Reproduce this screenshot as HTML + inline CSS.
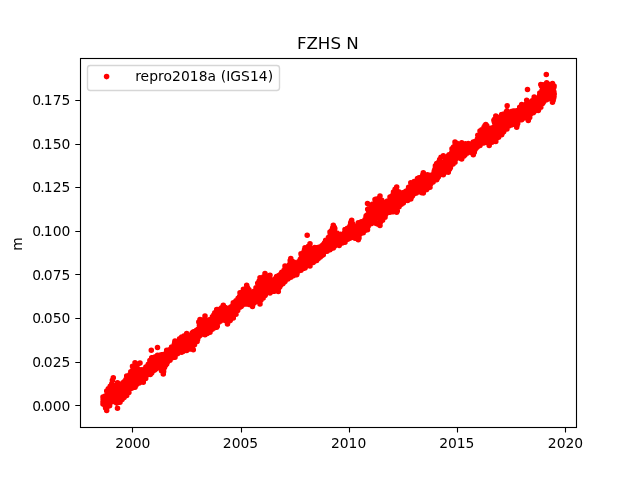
<!DOCTYPE html>
<html lang="en"><head><meta charset="utf-8"><title>FZHS N</title>
<style>html,body{margin:0;padding:0;background:#fff}body{width:640px;height:480px;overflow:hidden}svg{display:block}text{font-family:"DejaVu Sans","Liberation Sans",sans-serif;fill:#000}.t{font-size:13.89px}.h{font-size:16.67px}</style></head><body>
<svg width="640" height="480" viewBox="0 0 640 480">
<rect width="640" height="480" fill="#fff"/>
<path d="M103.0 397.0h0M103.0 403.9h0M103.0 401.9h0M103.1 399.1h0M103.3 399.8h0M103.4 401.3h0M103.5 399.6h0M103.7 396.7h0M103.8 402.4h0M103.9 404.3h0M104.1 400.7h0M104.2 402.8h0M104.3 399.9h0M104.4 399.5h0M104.5 405.0h0M104.7 396.4h0M104.8 404.7h0M104.9 401.1h0M105.1 405.6h0M105.2 402.0h0M105.3 398.5h0M105.5 400.8h0M105.6 408.0h0M105.7 401.8h0M105.9 399.6h0M106.0 403.9h0M106.1 399.6h0M106.3 402.1h0M106.3 404.8h0M106.5 401.1h0M106.6 405.3h0M106.7 410.5h0M106.7 391.1h0M106.7 395.2h0M106.9 407.5h0M107.1 394.1h0M107.2 397.0h0M107.3 396.1h0M107.4 392.2h0M107.6 392.9h0M107.7 399.0h0M107.8 403.6h0M107.9 405.8h0M108.0 394.5h0M108.2 393.2h0M108.3 388.8h0M108.5 395.8h0M108.6 401.3h0M108.7 397.3h0M108.9 402.0h0M108.9 394.9h0M109.1 395.1h0M109.2 391.3h0M109.4 395.5h0M109.5 397.5h0M109.6 405.7h0M109.8 393.4h0M109.9 398.9h0M110.1 403.0h0M110.2 386.2h0M110.3 389.3h0M110.4 398.8h0M110.5 392.9h0M110.7 395.1h0M110.8 398.9h0M110.9 386.2h0M111.0 387.8h0M111.2 397.7h0M111.3 389.8h0M111.4 387.9h0M111.6 395.9h0M111.7 390.6h0M111.8 383.8h0M112.0 395.6h0M112.1 391.7h0M112.3 392.2h0M112.4 380.3h0M112.4 391.8h0M112.6 387.3h0M112.8 388.1h0M112.8 387.4h0M113.0 396.0h0M113.1 396.1h0M113.3 390.6h0M113.3 401.4h0M113.3 377.8h0M113.4 397.7h0M113.5 391.1h0M113.7 388.0h0M113.8 396.2h0M114.0 398.0h0M114.0 390.5h0M114.2 392.1h0M114.3 386.6h0M114.5 391.1h0M114.6 386.4h0M114.7 386.7h0M114.8 386.4h0M115.0 393.0h0M115.1 393.4h0M115.2 394.3h0M115.3 390.4h0M115.4 398.5h0M115.6 397.8h0M115.7 401.7h0M115.9 386.9h0M116.0 389.1h0M116.1 393.9h0M116.3 392.3h0M116.4 392.5h0M116.6 392.9h0M116.6 403.0h0M116.8 395.6h0M116.9 386.5h0M117.1 391.2h0M117.2 392.9h0M117.3 396.1h0M117.4 394.2h0M117.5 408.2h0M117.5 382.8h0M117.6 400.3h0M117.7 386.5h0M117.8 394.6h0M118.0 396.7h0M118.1 389.2h0M118.3 393.6h0M118.3 398.4h0M118.5 396.0h0M118.6 390.9h0M118.7 395.5h0M118.9 386.6h0M119.0 393.4h0M119.2 388.2h0M119.3 397.5h0M119.4 398.5h0M119.5 398.0h0M119.7 398.5h0M119.8 393.0h0M119.9 400.6h0M120.0 384.5h0M120.0 402.2h0M120.1 391.4h0M120.1 392.0h0M120.3 392.3h0M120.4 394.9h0M120.5 388.2h0M120.7 395.6h0M120.8 393.6h0M120.9 389.1h0M121.1 387.2h0M121.2 391.5h0M121.3 392.1h0M121.4 388.5h0M121.6 385.1h0M121.8 393.5h0M121.8 387.4h0M122.0 388.4h0M122.1 399.6h0M122.3 384.4h0M122.4 390.5h0M122.5 392.1h0M122.6 387.9h0M122.8 387.5h0M122.9 382.7h0M123.0 387.2h0M123.1 384.3h0M123.3 389.0h0M123.5 394.9h0M123.5 393.9h0M123.6 385.2h0M123.8 384.6h0M123.9 393.5h0M124.1 397.4h0M124.1 381.7h0M124.3 382.2h0M124.4 396.8h0M124.6 387.7h0M124.8 393.0h0M124.8 391.5h0M125.0 385.8h0M125.1 391.9h0M125.2 389.2h0M125.3 394.2h0M125.5 386.6h0M125.6 381.7h0M125.7 382.8h0M125.9 379.5h0M126.0 387.6h0M126.2 390.4h0M126.2 390.8h0M126.4 388.6h0M126.5 382.9h0M126.7 391.0h0M126.7 395.5h0M126.7 376.1h0M126.7 392.2h0M126.9 393.7h0M127.1 385.0h0M127.2 387.0h0M127.3 386.0h0M127.5 383.1h0M127.5 382.3h0M127.7 393.0h0M127.9 381.3h0M127.9 383.2h0M128.1 386.9h0M128.2 392.8h0M128.4 389.9h0M128.5 390.8h0M128.6 384.2h0M128.7 388.1h0M128.9 392.6h0M129.0 387.4h0M129.1 380.4h0M129.2 387.3h0M129.4 378.8h0M129.5 388.8h0M129.7 382.6h0M129.8 383.1h0M129.9 374.6h0M130.1 382.3h0M130.2 377.4h0M130.3 384.3h0M130.4 376.8h0M130.5 386.2h0M130.7 384.3h0M130.8 371.8h0M130.9 377.5h0M131.0 377.1h0M131.2 379.6h0M131.3 387.0h0M131.4 376.3h0M131.6 387.5h0M131.7 388.2h0M131.9 378.0h0M132.0 376.2h0M132.1 383.8h0M132.3 378.0h0M132.4 377.7h0M132.5 379.7h0M132.5 366.3h0M132.7 370.4h0M132.8 366.7h0M132.9 378.7h0M133.0 383.7h0M133.1 367.4h0M133.3 381.6h0M133.4 368.2h0M133.5 376.1h0M133.7 382.8h0M133.8 386.7h0M134.0 384.3h0M134.1 381.4h0M134.2 382.4h0M134.3 376.6h0M134.5 378.2h0M134.6 376.9h0M134.7 377.7h0M134.8 376.4h0M135.0 377.1h0M135.0 362.8h0M135.0 387.2h0M135.1 372.0h0M135.2 373.5h0M135.3 366.3h0M135.5 374.8h0M135.7 374.8h0M135.7 368.9h0M135.9 385.5h0M136.1 376.5h0M136.1 368.5h0M136.2 373.3h0M136.4 375.0h0M136.6 382.9h0M136.7 373.5h0M136.8 377.1h0M137.0 365.4h0M137.1 372.2h0M137.2 375.9h0M137.3 374.4h0M137.5 369.8h0M137.6 372.3h0M137.7 383.6h0M137.9 375.3h0M138.0 369.5h0M138.1 381.5h0M138.3 369.2h0M138.4 372.7h0M138.5 379.1h0M138.6 379.9h0M138.7 380.2h0M138.8 377.9h0M139.0 378.5h0M139.2 383.0h0M139.2 371.5h0M139.4 373.3h0M139.5 381.4h0M139.7 371.5h0M139.8 382.5h0M139.9 381.5h0M140.0 363.1h0M140.0 379.8h0M140.1 379.8h0M140.3 370.8h0M140.4 375.9h0M140.6 382.0h0M140.7 372.4h0M140.8 374.4h0M141.0 372.0h0M141.0 377.3h0M141.2 369.7h0M141.3 379.1h0M141.4 381.4h0M141.6 377.5h0M141.7 381.5h0M141.8 376.0h0M142.0 375.4h0M142.2 379.3h0M142.2 376.8h0M142.3 379.7h0M142.5 372.9h0M142.6 381.8h0M142.8 381.6h0M143.0 374.1h0M143.0 373.1h0M143.1 374.4h0M143.3 371.7h0M143.3 370.3h0M143.3 382.2h0M143.4 380.0h0M143.5 376.1h0M143.7 377.4h0M143.8 371.4h0M143.9 372.3h0M144.1 375.0h0M144.2 374.2h0M144.3 378.8h0M144.5 374.6h0M144.6 369.0h0M144.7 372.1h0M144.9 378.0h0M145.0 376.0h0M145.1 377.1h0M145.2 377.1h0M145.3 377.2h0M145.5 374.1h0M145.7 378.5h0M145.8 370.8h0M145.9 367.1h0M146.0 376.3h0M146.1 370.3h0M146.3 373.9h0M146.4 374.7h0M146.5 366.8h0M146.6 371.7h0M146.8 374.7h0M146.9 371.3h0M147.1 372.9h0M147.2 373.2h0M147.3 369.6h0M147.5 371.5h0M147.6 373.0h0M147.7 370.5h0M147.8 368.8h0M148.0 369.5h0M148.1 365.0h0M148.3 364.3h0M148.4 370.3h0M148.5 373.4h0M148.7 366.4h0M148.7 367.4h0M148.9 373.1h0M149.0 366.5h0M149.2 367.1h0M149.3 367.6h0M149.4 368.0h0M149.6 372.0h0M149.6 368.0h0M149.8 362.9h0M149.9 360.5h0M150.1 360.8h0M150.2 364.9h0M150.3 374.4h0M150.4 370.0h0M150.5 365.7h0M150.8 367.0h0M150.8 368.7h0M151.0 364.3h0M151.1 360.5h0M151.3 364.9h0M151.3 350.3h0M151.3 364.9h0M151.5 362.8h0M151.6 366.1h0M151.7 373.0h0M151.7 357.8h0M151.8 366.9h0M151.9 359.2h0M152.0 371.2h0M152.1 357.9h0M152.3 365.2h0M152.4 365.9h0M152.5 365.8h0M152.7 364.6h0M152.8 361.1h0M152.9 365.8h0M153.0 365.7h0M153.2 364.8h0M153.3 361.1h0M153.4 367.5h0M153.6 370.7h0M153.7 368.3h0M153.8 360.6h0M154.0 365.9h0M154.1 364.1h0M154.2 368.4h0M154.4 364.7h0M154.5 366.0h0M154.6 364.0h0M154.7 369.9h0M154.9 358.9h0M155.0 362.5h0M155.2 369.5h0M155.3 356.7h0M155.4 362.5h0M155.5 359.7h0M155.6 364.9h0M155.8 369.0h0M156.0 366.2h0M156.1 364.3h0M156.1 365.5h0M156.3 358.5h0M156.4 364.6h0M156.6 360.1h0M156.6 363.1h0M156.8 362.5h0M156.9 367.7h0M157.1 356.6h0M157.3 362.2h0M157.3 362.4h0M157.5 359.8h0M157.5 347.5h0M157.5 368.0h0M157.5 355.3h0M157.6 364.7h0M157.8 364.5h0M157.9 362.5h0M157.9 365.2h0M158.1 359.4h0M158.3 367.3h0M158.4 358.8h0M158.5 357.6h0M158.6 358.4h0M158.7 367.4h0M158.9 365.8h0M159.0 366.8h0M159.1 363.4h0M159.3 357.5h0M159.4 356.8h0M159.5 355.3h0M159.6 365.0h0M159.7 364.9h0M159.9 362.9h0M160.0 363.8h0M160.0 359.2h0M160.2 367.3h0M160.3 360.3h0M160.4 355.6h0M160.6 363.1h0M160.7 357.8h0M160.8 364.1h0M161.0 357.4h0M161.1 359.2h0M161.3 363.1h0M161.4 364.2h0M161.5 370.8h0M161.6 354.9h0M161.8 364.6h0M161.9 359.9h0M162.0 355.5h0M162.0 365.2h0M162.2 368.9h0M162.3 358.5h0M162.4 368.4h0M162.5 362.4h0M162.7 363.5h0M162.8 356.9h0M163.0 362.2h0M163.0 360.1h0M163.2 363.3h0M163.3 354.5h0M163.3 373.9h0M163.3 360.1h0M163.4 369.8h0M163.6 371.4h0M163.7 366.2h0M163.8 359.7h0M164.0 366.7h0M164.1 357.6h0M164.3 361.5h0M164.3 358.6h0M164.5 367.4h0M164.6 366.4h0M164.7 359.6h0M164.9 361.3h0M165.0 356.5h0M165.1 364.9h0M165.3 361.6h0M165.4 354.8h0M165.5 355.3h0M165.6 365.3h0M165.8 355.0h0M166.0 358.4h0M166.1 357.4h0M166.2 360.8h0M166.3 358.2h0M166.4 359.5h0M166.6 352.1h0M166.7 355.6h0M166.7 350.3h0M166.7 363.9h0M166.9 359.8h0M166.9 359.7h0M167.1 361.9h0M167.3 358.4h0M167.3 355.6h0M167.5 360.1h0M167.6 354.4h0M167.7 361.8h0M167.9 357.8h0M168.0 355.2h0M168.2 358.5h0M168.3 357.2h0M168.4 354.4h0M168.5 360.3h0M168.7 350.1h0M168.8 357.4h0M169.0 359.5h0M169.0 360.3h0M169.2 358.6h0M169.3 352.0h0M169.5 352.9h0M169.5 351.8h0M169.7 357.4h0M169.8 359.9h0M170.0 349.9h0M170.0 360.2h0M170.0 349.5h0M170.1 353.0h0M170.2 354.6h0M170.4 351.2h0M170.4 358.5h0M170.6 357.9h0M170.8 355.5h0M170.9 352.6h0M171.0 352.0h0M171.1 356.2h0M171.3 355.1h0M171.3 353.6h0M171.5 356.7h0M171.6 347.1h0M171.7 358.1h0M171.9 347.4h0M172.1 348.7h0M172.2 352.8h0M172.3 347.5h0M172.4 348.9h0M172.5 356.1h0M172.7 351.6h0M172.8 348.0h0M172.9 355.8h0M173.0 355.6h0M173.2 349.4h0M173.4 352.1h0M173.4 351.4h0M173.6 348.5h0M173.7 351.4h0M173.9 349.8h0M173.9 351.1h0M174.1 345.1h0M174.2 354.6h0M174.4 356.9h0M174.5 352.5h0M174.6 343.4h0M174.8 352.0h0M174.8 341.8h0M175.0 341.1h0M175.0 357.2h0M175.1 354.8h0M175.2 343.5h0M175.3 345.5h0M175.4 351.1h0M175.6 346.4h0M175.7 349.4h0M175.8 346.5h0M175.9 354.5h0M176.0 351.1h0M176.1 344.6h0M176.4 353.3h0M176.5 347.8h0M176.6 346.6h0M176.7 346.5h0M176.9 342.3h0M176.9 348.6h0M177.1 351.3h0M177.2 345.1h0M177.4 345.1h0M177.5 342.1h0M177.7 345.3h0M177.7 351.9h0M177.8 353.6h0M178.0 353.1h0M178.1 348.7h0M178.3 348.3h0M178.4 349.0h0M178.5 345.4h0M178.6 345.1h0M178.8 348.4h0M178.9 349.5h0M179.1 349.2h0M179.1 342.5h0M179.4 345.7h0M179.4 342.1h0M179.6 338.7h0M179.7 346.0h0M179.9 343.1h0M180.0 348.0h0M180.1 340.7h0M180.2 342.5h0M180.4 348.9h0M180.4 345.5h0M180.6 348.8h0M180.7 350.7h0M180.9 343.5h0M181.0 343.7h0M181.1 342.1h0M181.2 344.7h0M181.4 349.5h0M181.5 340.5h0M181.6 344.9h0M181.7 352.2h0M181.7 337.0h0M181.8 346.6h0M181.9 343.9h0M182.1 350.6h0M182.1 341.1h0M182.3 349.6h0M182.4 341.9h0M182.6 339.8h0M182.7 345.0h0M182.9 347.9h0M183.0 351.5h0M183.1 348.5h0M183.2 337.0h0M183.3 340.5h0M183.4 349.1h0M183.6 339.4h0M183.7 349.8h0M183.9 336.0h0M184.0 342.9h0M184.1 348.0h0M184.3 349.5h0M184.4 345.8h0M184.5 338.5h0M184.6 346.1h0M184.8 347.3h0M184.9 348.4h0M185.0 343.6h0M185.2 347.1h0M185.3 344.1h0M185.5 342.5h0M185.6 342.6h0M185.7 337.6h0M185.8 350.3h0M185.9 336.5h0M186.0 342.6h0M186.2 338.6h0M186.4 339.8h0M186.4 345.0h0M186.6 340.0h0M186.7 344.8h0M186.7 333.6h0M186.7 350.5h0M186.8 343.0h0M187.0 347.6h0M187.1 341.1h0M187.2 338.1h0M187.4 344.1h0M187.5 336.4h0M187.7 346.1h0M187.8 343.1h0M187.9 341.4h0M188.1 347.0h0M188.1 346.2h0M188.3 337.6h0M188.4 340.1h0M188.6 337.9h0M188.6 341.8h0M188.8 336.5h0M188.9 343.7h0M189.0 341.4h0M189.2 341.4h0M189.3 344.8h0M189.5 343.6h0M189.6 339.8h0M189.7 342.7h0M189.8 345.6h0M190.0 340.9h0M190.1 348.9h0M190.2 335.5h0M190.4 341.4h0M190.5 342.4h0M190.6 337.5h0M190.7 336.8h0M190.9 341.9h0M191.0 346.2h0M191.1 337.6h0M191.3 341.3h0M191.4 340.6h0M191.6 343.4h0M191.7 340.2h0M191.8 336.4h0M191.9 345.1h0M192.1 341.3h0M192.2 344.4h0M192.3 332.7h0M192.4 344.1h0M192.5 334.7h0M192.7 345.2h0M192.8 336.8h0M193.0 335.3h0M193.1 339.5h0M193.2 343.2h0M193.3 332.0h0M193.3 349.7h0M193.3 338.7h0M193.5 343.3h0M193.6 331.7h0M193.7 333.7h0M193.9 340.7h0M194.0 340.4h0M194.1 341.9h0M194.3 334.2h0M194.4 332.7h0M194.5 344.8h0M194.7 338.1h0M194.8 340.3h0M194.9 335.8h0M195.0 337.6h0M195.2 334.5h0M195.3 331.8h0M195.5 338.9h0M195.6 339.2h0M195.7 338.9h0M195.8 341.0h0M195.9 335.1h0M196.0 331.9h0M196.2 335.2h0M196.4 339.6h0M196.5 330.2h0M196.6 332.8h0M196.7 340.1h0M196.9 331.9h0M197.0 337.9h0M197.1 341.4h0M197.2 331.9h0M197.4 332.8h0M197.5 337.8h0M197.6 339.5h0M197.7 331.0h0M197.9 332.3h0M198.0 329.4h0M198.2 330.8h0M198.3 329.3h0M198.4 334.2h0M198.5 331.1h0M198.7 334.9h0M198.8 322.1h0M198.9 336.4h0M199.1 331.3h0M199.2 322.3h0M199.3 321.6h0M199.4 325.3h0M199.6 327.1h0M199.7 323.1h0M199.8 329.8h0M200.0 324.8h0M200.0 335.5h0M200.0 319.5h0M200.1 328.1h0M200.2 326.9h0M200.3 327.0h0M200.5 331.6h0M200.7 333.6h0M200.8 334.0h0M200.9 324.3h0M201.0 322.6h0M201.2 332.2h0M201.3 323.8h0M201.4 320.5h0M201.6 321.8h0M201.7 327.2h0M201.8 324.7h0M201.9 321.6h0M202.0 323.5h0M202.1 322.9h0M202.3 320.2h0M202.4 329.3h0M202.5 332.1h0M202.7 322.7h0M202.9 326.3h0M203.0 322.2h0M203.1 320.6h0M203.3 326.4h0M203.3 325.9h0M203.5 320.7h0M203.7 331.0h0M203.7 324.8h0M203.8 325.6h0M204.0 322.2h0M204.1 330.9h0M204.3 329.9h0M204.4 325.8h0M204.5 334.6h0M204.6 333.7h0M204.8 320.8h0M204.9 328.0h0M205.0 334.7h0M205.0 316.1h0M205.0 324.8h0M205.1 319.2h0M205.3 321.2h0M205.4 330.7h0M205.6 327.6h0M205.7 327.8h0M205.8 327.6h0M205.9 324.7h0M206.1 328.7h0M206.3 321.7h0M206.4 320.2h0M206.4 329.6h0M206.6 329.6h0M206.8 326.7h0M206.8 325.3h0M207.0 324.6h0M207.2 333.4h0M207.2 323.6h0M207.3 328.7h0M207.5 320.7h0M207.7 323.6h0M207.7 332.9h0M207.9 321.0h0M208.1 326.1h0M208.2 332.1h0M208.3 329.8h0M208.5 328.3h0M208.6 327.9h0M208.7 326.9h0M208.8 321.4h0M208.9 329.4h0M209.1 325.2h0M209.3 323.3h0M209.3 322.1h0M209.4 324.7h0M209.6 332.3h0M209.7 321.4h0M209.9 327.1h0M210.0 324.2h0M210.0 332.2h0M210.0 319.5h0M210.2 327.9h0M210.2 327.4h0M210.4 324.8h0M210.5 325.4h0M210.7 326.4h0M210.8 324.8h0M210.9 325.8h0M211.1 323.7h0M211.2 324.3h0M211.3 319.2h0M211.4 327.4h0M211.5 321.0h0M211.6 328.4h0M211.8 322.0h0M211.9 321.3h0M212.1 321.1h0M212.2 323.6h0M212.4 316.9h0M212.4 328.1h0M212.5 327.3h0M212.7 329.1h0M212.9 320.6h0M213.0 318.4h0M213.1 320.1h0M213.3 320.7h0M213.3 326.2h0M213.5 327.8h0M213.6 316.8h0M213.8 324.5h0M213.9 314.7h0M214.0 327.9h0M214.2 321.2h0M214.3 321.5h0M214.4 319.2h0M214.5 314.6h0M214.7 324.0h0M214.8 312.8h0M214.9 317.2h0M215.0 316.8h0M215.2 321.2h0M215.3 313.7h0M215.5 318.6h0M215.6 319.2h0M215.7 314.7h0M215.9 321.2h0M216.0 325.7h0M216.1 319.9h0M216.3 314.8h0M216.4 322.3h0M216.5 312.7h0M216.6 319.5h0M216.7 327.2h0M216.7 309.5h0M216.7 314.0h0M216.9 317.7h0M217.0 323.0h0M217.2 317.8h0M217.3 326.3h0M217.4 316.9h0M217.5 315.7h0M217.7 313.4h0M217.7 316.4h0M217.9 319.3h0M218.1 309.6h0M218.2 317.3h0M218.3 314.6h0M218.4 322.0h0M218.6 313.5h0M218.7 320.6h0M218.8 311.8h0M218.9 310.3h0M219.1 322.1h0M219.2 312.0h0M219.4 309.8h0M219.5 316.7h0M219.6 310.2h0M219.8 319.8h0M219.8 310.1h0M220.0 317.7h0M220.1 313.4h0M220.3 321.3h0M220.4 316.3h0M220.5 317.2h0M220.6 314.4h0M220.8 319.7h0M220.9 312.3h0M221.0 314.8h0M221.2 312.5h0M221.3 310.6h0M221.5 315.1h0M221.6 307.9h0M221.7 307.7h0M221.8 309.6h0M222.0 316.5h0M222.1 319.3h0M222.2 313.0h0M222.3 313.3h0M222.5 308.1h0M222.6 311.2h0M222.8 309.6h0M222.8 311.0h0M223.0 307.1h0M223.1 310.8h0M223.3 312.6h0M223.3 318.0h0M223.3 305.3h0M223.4 312.3h0M223.5 315.5h0M223.7 311.7h0M223.8 313.6h0M223.9 316.3h0M224.0 313.5h0M224.2 314.6h0M224.2 318.1h0M224.4 312.2h0M224.5 312.9h0M224.6 307.7h0M224.8 317.2h0M225.0 315.6h0M225.1 320.5h0M225.2 307.5h0M225.4 311.1h0M225.4 316.3h0M225.6 312.1h0M225.7 308.4h0M225.8 318.4h0M226.0 316.5h0M226.1 312.9h0M226.2 310.6h0M226.4 312.4h0M226.5 315.2h0M226.6 313.6h0M226.8 316.0h0M226.9 315.7h0M227.0 318.4h0M227.1 309.5h0M227.3 316.9h0M227.4 317.9h0M227.5 323.9h0M227.5 308.6h0M227.5 312.1h0M227.6 315.7h0M227.8 314.7h0M227.9 318.2h0M228.1 315.7h0M228.2 316.0h0M228.4 314.5h0M228.4 315.2h0M228.6 319.2h0M228.7 314.7h0M228.8 311.4h0M229.0 315.4h0M229.1 312.7h0M229.3 314.8h0M229.3 317.5h0M229.5 318.4h0M229.6 318.3h0M229.7 313.0h0M229.9 316.4h0M230.0 315.7h0M230.2 320.6h0M230.3 312.5h0M230.4 313.7h0M230.5 318.2h0M230.6 308.6h0M230.7 307.1h0M230.9 309.9h0M231.0 315.6h0M231.1 312.3h0M231.3 307.9h0M231.5 313.3h0M231.6 309.2h0M231.7 312.9h0M231.9 318.0h0M232.0 310.7h0M232.1 311.5h0M232.2 314.4h0M232.4 317.8h0M232.4 317.4h0M232.6 316.4h0M232.8 308.4h0M232.8 305.3h0M233.0 311.7h0M233.1 314.3h0M233.3 307.1h0M233.3 302.8h0M233.3 318.0h0M233.4 311.8h0M233.5 314.4h0M233.6 305.2h0M233.8 310.9h0M233.9 312.7h0M234.0 309.8h0M234.2 313.2h0M234.3 311.4h0M234.4 306.8h0M234.5 311.0h0M234.7 311.1h0M234.8 312.7h0M235.0 310.6h0M235.1 306.7h0M235.2 304.6h0M235.3 305.7h0M235.5 311.2h0M235.6 302.3h0M235.7 313.7h0M235.8 308.9h0M236.0 314.2h0M236.0 300.8h0M236.0 306.0h0M236.2 308.6h0M236.3 304.7h0M236.4 310.0h0M236.5 303.7h0M236.6 310.9h0M236.7 304.3h0M236.9 308.3h0M237.1 308.1h0M237.2 305.6h0M237.3 303.3h0M237.4 302.0h0M237.5 307.1h0M237.7 310.4h0M237.9 307.2h0M237.9 306.7h0M238.1 298.3h0M238.2 299.6h0M238.4 302.2h0M238.5 304.9h0M238.6 302.4h0M238.7 298.4h0M238.9 302.5h0M238.9 300.7h0M239.1 304.6h0M239.2 305.3h0M239.3 302.2h0M239.5 301.7h0M239.6 296.5h0M239.8 302.1h0M239.9 296.1h0M240.0 307.2h0M240.0 292.8h0M240.0 303.0h0M240.2 297.9h0M240.2 293.6h0M240.4 305.8h0M240.5 296.6h0M240.6 302.8h0M240.8 305.2h0M241.0 298.7h0M241.1 303.4h0M241.2 306.5h0M241.3 295.9h0M241.4 296.7h0M241.5 294.2h0M241.7 295.5h0M241.9 302.0h0M241.9 303.0h0M242.1 296.1h0M242.2 301.3h0M242.3 296.3h0M242.5 305.1h0M242.7 298.7h0M242.8 297.6h0M242.9 301.6h0M243.0 296.1h0M243.2 292.1h0M243.3 297.5h0M243.4 289.2h0M243.5 294.2h0M243.7 299.0h0M243.8 299.0h0M243.9 304.2h0M244.1 299.8h0M244.2 296.6h0M244.3 297.8h0M244.5 295.4h0M244.6 293.3h0M244.7 294.8h0M244.8 302.6h0M244.9 298.7h0M245.0 300.6h0M245.2 291.9h0M245.4 293.9h0M245.4 300.0h0M245.6 296.2h0M245.7 295.3h0M245.9 294.7h0M246.0 300.8h0M246.2 298.5h0M246.3 289.7h0M246.4 294.3h0M246.5 291.0h0M246.6 293.1h0M246.7 303.9h0M246.7 285.3h0M246.8 300.6h0M246.9 294.8h0M247.1 292.4h0M247.1 299.8h0M247.3 287.2h0M247.4 292.8h0M247.5 291.3h0M247.7 290.1h0M247.8 296.6h0M247.9 290.1h0M248.1 288.8h0M248.2 301.6h0M248.4 296.4h0M248.5 292.7h0M248.6 295.3h0M248.7 299.2h0M248.8 296.4h0M249.0 289.9h0M249.1 304.4h0M249.3 294.2h0M249.4 304.5h0M249.5 304.3h0M249.6 299.8h0M249.7 301.0h0M249.9 294.2h0M250.1 296.3h0M250.1 295.8h0M250.3 293.1h0M250.4 301.3h0M250.6 298.8h0M250.7 300.1h0M250.8 298.5h0M251.0 304.4h0M251.1 295.1h0M251.2 299.1h0M251.3 295.7h0M251.5 301.4h0M251.6 304.9h0M251.7 294.0h0M251.9 301.2h0M252.0 304.7h0M252.1 303.0h0M252.3 300.7h0M252.4 299.8h0M252.5 295.2h0M252.5 306.4h0M252.5 294.5h0M252.7 300.8h0M252.8 296.7h0M252.9 300.9h0M253.1 295.5h0M253.1 298.0h0M253.3 296.7h0M253.4 294.4h0M253.5 298.8h0M253.7 299.1h0M253.8 303.3h0M253.9 295.4h0M254.1 296.5h0M254.1 291.3h0M254.3 294.3h0M254.5 302.8h0M254.6 294.0h0M254.7 293.0h0M254.8 299.8h0M255.0 292.9h0M255.1 295.5h0M255.2 299.9h0M255.3 299.7h0M255.5 295.5h0M255.7 294.1h0M255.8 300.8h0M255.9 301.4h0M256.0 287.8h0M256.1 288.5h0M256.3 290.2h0M256.4 295.9h0M256.6 299.1h0M256.6 300.1h0M256.8 299.2h0M256.9 292.7h0M257.0 288.3h0M257.2 288.7h0M257.3 293.3h0M257.4 292.7h0M257.6 292.1h0M257.7 283.3h0M257.8 300.7h0M258.0 288.0h0M258.1 291.7h0M258.2 287.0h0M258.3 294.4h0M258.5 284.2h0M258.6 287.6h0M258.8 299.7h0M258.8 289.0h0M259.0 281.3h0M259.1 290.5h0M259.3 292.2h0M259.4 294.0h0M259.5 292.7h0M259.7 280.2h0M259.7 290.6h0M259.9 285.0h0M260.0 277.8h0M260.0 303.9h0M260.0 293.6h0M260.1 295.9h0M260.3 279.4h0M260.4 284.3h0M260.6 291.8h0M260.7 294.3h0M260.8 288.9h0M260.9 282.2h0M261.0 300.0h0M261.2 295.5h0M261.4 297.7h0M261.5 288.7h0M261.6 294.9h0M261.7 296.7h0M261.9 283.2h0M262.0 286.8h0M262.2 284.1h0M262.3 284.1h0M262.4 282.2h0M262.5 282.5h0M262.6 282.5h0M262.8 285.4h0M262.9 277.6h0M263.0 288.5h0M263.2 298.0h0M263.3 282.6h0M263.4 295.0h0M263.6 276.9h0M263.6 288.8h0M263.8 287.8h0M264.0 289.8h0M264.1 285.9h0M264.2 281.4h0M264.3 282.2h0M264.5 280.0h0M264.5 295.6h0M264.7 286.3h0M264.8 277.1h0M264.9 287.9h0M265.0 273.6h0M265.0 295.5h0M265.1 284.5h0M265.2 282.7h0M265.3 295.0h0M265.5 286.2h0M265.7 289.3h0M265.7 281.8h0M265.9 282.6h0M266.0 287.7h0M266.2 285.9h0M266.3 292.4h0M266.4 280.6h0M266.5 280.9h0M266.6 291.3h0M266.8 284.3h0M266.9 286.8h0M267.1 280.4h0M267.2 289.5h0M267.3 276.2h0M267.4 287.5h0M267.6 280.8h0M267.7 282.2h0M267.9 287.4h0M268.0 284.2h0M268.1 279.4h0M268.2 285.1h0M268.4 281.9h0M268.5 282.4h0M268.6 285.9h0M268.8 276.9h0M268.9 285.4h0M269.0 280.2h0M269.2 278.2h0M269.3 287.6h0M269.4 277.4h0M269.5 283.2h0M269.6 287.0h0M269.8 286.0h0M269.9 282.2h0M270.0 293.0h0M270.0 275.3h0M270.0 287.4h0M270.2 281.5h0M270.3 279.7h0M270.4 286.2h0M270.6 288.0h0M270.7 285.5h0M270.8 290.9h0M270.9 285.7h0M271.1 284.3h0M271.3 285.1h0M271.3 283.5h0M271.5 285.6h0M271.6 286.3h0M271.7 280.0h0M271.8 282.4h0M272.0 285.0h0M272.2 285.2h0M272.2 283.2h0M272.4 291.1h0M272.5 281.7h0M272.6 282.3h0M272.8 282.4h0M272.9 289.2h0M273.1 280.7h0M273.2 289.3h0M273.3 283.9h0M273.5 291.3h0M273.6 286.1h0M273.7 284.8h0M273.8 286.3h0M273.9 290.9h0M274.1 279.9h0M274.2 285.4h0M274.4 291.3h0M274.4 285.0h0M274.6 279.3h0M274.8 284.8h0M274.9 287.8h0M275.0 282.0h0M275.1 285.6h0M275.2 289.7h0M275.4 283.1h0M275.5 286.4h0M275.6 281.7h0M275.8 286.0h0M275.9 278.0h0M276.1 290.7h0M276.2 278.7h0M276.3 286.5h0M276.4 285.1h0M276.6 281.2h0M276.6 276.6h0M276.8 281.2h0M277.0 283.9h0M277.1 280.3h0M277.2 280.5h0M277.3 279.2h0M277.4 283.0h0M277.6 282.5h0M277.7 280.1h0M277.9 288.8h0M278.0 284.3h0M278.1 283.2h0M278.3 288.5h0M278.3 291.4h0M278.3 276.1h0M278.4 281.0h0M278.5 281.5h0M278.7 278.9h0M278.8 284.4h0M278.9 288.0h0M279.0 283.2h0M279.2 280.2h0M279.3 275.4h0M279.4 284.8h0M279.5 284.7h0M279.7 286.2h0M279.8 285.9h0M279.9 286.7h0M280.0 282.6h0M280.2 284.9h0M280.3 280.1h0M280.4 275.0h0M280.6 278.8h0M280.7 276.4h0M280.9 278.7h0M281.0 273.8h0M281.1 284.7h0M281.2 280.5h0M281.4 282.6h0M281.5 280.1h0M281.6 272.8h0M281.8 272.3h0M281.9 280.7h0M282.0 276.6h0M282.1 275.4h0M282.3 283.2h0M282.4 279.8h0M282.5 272.8h0M282.7 276.1h0M282.8 283.8h0M282.9 275.3h0M283.1 272.3h0M283.2 271.8h0M283.3 279.4h0M283.4 279.1h0M283.6 273.7h0M283.7 280.7h0M283.9 278.4h0M284.0 270.3h0M284.0 282.2h0M284.2 273.9h0M284.3 277.4h0M284.5 277.7h0M284.6 277.7h0M284.8 277.7h0M284.8 277.4h0M285.0 268.7h0M285.0 281.4h0M285.0 266.1h0M285.1 276.0h0M285.3 278.0h0M285.4 277.5h0M285.5 274.6h0M285.6 268.1h0M285.8 277.4h0M286.0 278.9h0M286.0 277.5h0M286.2 272.6h0M286.3 274.1h0M286.5 267.4h0M286.6 269.4h0M286.7 277.2h0M286.9 274.3h0M287.0 268.8h0M287.1 270.9h0M287.2 270.9h0M287.3 274.0h0M287.5 276.6h0M287.6 276.5h0M287.8 271.7h0M287.9 278.9h0M288.0 266.9h0M288.1 271.9h0M288.2 271.7h0M288.4 272.0h0M288.5 275.1h0M288.6 266.1h0M288.8 272.8h0M288.9 269.6h0M289.0 267.1h0M289.2 272.8h0M289.2 265.2h0M289.4 264.7h0M289.6 275.0h0M289.7 265.5h0M289.8 266.7h0M290.0 264.2h0M290.1 265.1h0M290.2 260.6h0M290.3 262.1h0M290.4 276.8h0M290.5 265.0h0M290.7 270.7h0M290.8 277.2h0M290.8 258.6h0M290.9 263.8h0M290.9 263.8h0M291.1 260.9h0M291.2 268.1h0M291.4 271.7h0M291.5 275.5h0M291.6 276.4h0M291.7 276.1h0M291.9 268.4h0M292.0 261.8h0M292.2 265.0h0M292.2 275.7h0M292.4 268.5h0M292.6 265.7h0M292.6 269.5h0M292.8 270.1h0M292.9 268.8h0M293.0 262.9h0M293.2 262.1h0M293.3 275.7h0M293.4 262.8h0M293.6 263.9h0M293.7 262.1h0M293.9 271.5h0M294.0 273.6h0M294.1 264.4h0M294.2 271.7h0M294.3 266.5h0M294.5 266.3h0M294.6 271.0h0M294.7 264.9h0M294.9 267.4h0M295.0 265.9h0M295.1 270.3h0M295.3 273.8h0M295.4 271.5h0M295.6 273.4h0M295.7 264.4h0M295.8 273.3h0M295.9 272.8h0M296.0 271.6h0M296.2 272.3h0M296.3 265.9h0M296.5 266.3h0M296.6 265.3h0M296.7 262.8h0M296.7 274.7h0M296.7 266.2h0M296.8 267.7h0M297.0 273.7h0M297.1 272.1h0M297.2 270.8h0M297.3 264.0h0M297.4 268.2h0M297.7 270.9h0M297.7 268.5h0M297.8 265.9h0M298.0 267.1h0M298.2 269.9h0M298.2 270.5h0M298.3 264.7h0M298.6 266.5h0M298.7 267.3h0M298.8 261.5h0M298.9 268.3h0M299.1 269.3h0M299.2 265.2h0M299.3 263.0h0M299.4 269.9h0M299.5 270.6h0M299.7 266.5h0M299.8 265.4h0M300.0 262.9h0M300.1 264.5h0M300.2 265.8h0M300.3 259.4h0M300.5 260.8h0M300.6 260.5h0M300.7 260.6h0M300.8 270.0h0M301.0 265.1h0M301.0 270.2h0M301.0 253.8h0M301.1 265.9h0M301.2 264.1h0M301.4 254.9h0M301.5 255.7h0M301.7 267.4h0M301.7 263.7h0M301.9 255.7h0M302.0 257.1h0M302.2 263.2h0M302.3 258.8h0M302.5 260.5h0M302.6 261.0h0M302.7 253.1h0M302.8 260.6h0M302.9 257.7h0M303.0 258.2h0M303.2 262.3h0M303.3 262.9h0M303.5 264.9h0M303.6 265.4h0M303.7 256.8h0M303.8 263.6h0M303.9 259.0h0M304.1 257.7h0M304.3 253.0h0M304.4 268.3h0M304.5 249.9h0M304.7 259.7h0M304.7 253.1h0M304.9 261.5h0M305.0 268.0h0M305.0 247.8h0M305.1 264.9h0M305.2 259.9h0M305.3 250.4h0M305.4 262.4h0M305.6 259.3h0M305.7 266.7h0M305.8 257.0h0M306.0 265.5h0M306.1 250.8h0M306.2 258.7h0M306.3 253.5h0M306.4 256.1h0M306.6 248.5h0M306.7 258.5h0M306.8 265.3h0M307.0 258.8h0M307.1 264.4h0M307.2 258.4h0M307.2 235.3h0M307.4 257.7h0M307.5 249.2h0M307.6 250.8h0M307.7 258.7h0M307.8 259.0h0M308.0 261.8h0M308.1 250.1h0M308.3 251.9h0M308.4 248.9h0M308.5 246.4h0M308.7 254.9h0M308.8 251.0h0M308.9 252.8h0M309.0 251.6h0M309.2 253.5h0M309.3 259.0h0M309.4 249.6h0M309.5 252.6h0M309.7 248.9h0M309.9 253.6h0M310.0 248.7h0M310.0 266.0h0M310.0 243.8h0M310.1 259.0h0M310.3 259.6h0M310.4 249.6h0M310.5 259.4h0M310.6 255.9h0M310.8 252.1h0M310.8 263.3h0M311.0 259.3h0M311.1 255.5h0M311.3 254.1h0M311.4 255.7h0M311.5 251.9h0M311.6 257.1h0M311.8 250.7h0M311.9 252.0h0M312.0 249.0h0M312.1 251.4h0M312.3 262.0h0M312.4 252.8h0M312.5 261.0h0M312.7 254.4h0M312.8 255.3h0M313.0 248.5h0M313.1 255.7h0M313.2 262.5h0M313.3 250.9h0M313.5 261.2h0M313.6 255.7h0M313.8 253.0h0M313.9 258.7h0M314.0 256.6h0M314.1 250.5h0M314.3 248.3h0M314.4 256.3h0M314.5 261.3h0M314.7 250.2h0M314.7 247.5h0M314.9 250.5h0M315.1 248.9h0M315.2 253.8h0M315.3 255.9h0M315.5 256.4h0M315.6 248.8h0M315.6 257.9h0M315.8 260.0h0M315.9 252.6h0M316.1 252.4h0M316.2 258.0h0M316.4 252.3h0M316.4 253.3h0M316.5 260.0h0M316.7 255.3h0M316.7 247.8h0M316.7 260.5h0M316.8 256.2h0M317.0 250.5h0M317.1 253.2h0M317.2 251.1h0M317.3 254.7h0M317.5 252.0h0M317.6 257.2h0M317.8 254.8h0M317.9 256.8h0M318.1 254.6h0M318.2 257.3h0M318.3 250.1h0M318.4 258.5h0M318.6 257.1h0M318.6 252.5h0M318.8 247.2h0M319.0 256.0h0M319.1 247.8h0M319.2 248.3h0M319.3 250.0h0M319.5 255.1h0M319.6 253.0h0M319.7 255.2h0M319.8 253.0h0M320.0 251.7h0M320.1 251.4h0M320.2 252.5h0M320.4 257.0h0M320.5 252.7h0M320.7 250.4h0M320.8 250.6h0M320.9 250.3h0M321.0 247.0h0M321.2 247.3h0M321.3 253.0h0M321.4 250.6h0M321.5 253.2h0M321.7 254.3h0M321.8 251.5h0M321.9 245.7h0M322.1 255.5h0M322.2 249.6h0M322.3 250.6h0M322.4 250.5h0M322.5 251.4h0M322.7 249.5h0M322.9 252.5h0M323.0 250.3h0M323.1 250.9h0M323.2 251.7h0M323.3 254.7h0M323.3 244.5h0M323.4 247.8h0M323.5 251.0h0M323.6 247.7h0M323.7 249.2h0M323.9 246.7h0M324.0 246.2h0M324.2 249.5h0M324.2 251.5h0M324.4 245.9h0M324.6 242.7h0M324.7 244.0h0M324.8 251.1h0M324.9 249.6h0M325.1 246.2h0M325.2 246.2h0M325.3 250.1h0M325.5 244.6h0M325.6 248.9h0M325.7 240.2h0M325.8 246.8h0M325.9 245.7h0M326.1 240.2h0M326.2 248.0h0M326.3 245.7h0M326.5 244.8h0M326.6 241.5h0M326.8 248.5h0M326.9 245.1h0M327.0 250.3h0M327.1 251.3h0M327.3 242.2h0M327.4 249.4h0M327.5 240.5h0M327.7 247.7h0M327.7 244.8h0M327.9 247.9h0M328.0 244.5h0M328.1 241.8h0M328.3 244.5h0M328.4 237.6h0M328.5 243.9h0M328.7 239.8h0M328.8 246.5h0M328.9 245.6h0M329.1 239.0h0M329.2 239.5h0M329.4 246.7h0M329.5 239.2h0M329.6 244.2h0M329.7 239.1h0M329.8 246.1h0M330.0 236.3h0M330.0 232.0h0M330.0 249.7h0M330.1 240.1h0M330.2 233.4h0M330.4 244.6h0M330.5 242.1h0M330.6 235.5h0M330.7 232.2h0M330.9 245.8h0M331.0 231.3h0M331.2 237.4h0M331.3 239.5h0M331.4 248.6h0M331.6 245.9h0M331.6 238.9h0M331.8 240.9h0M331.9 234.6h0M332.1 230.5h0M332.2 235.0h0M332.3 229.3h0M332.5 242.5h0M332.6 232.0h0M332.7 227.7h0M332.8 239.1h0M333.0 233.7h0M333.1 245.3h0M333.2 234.1h0M333.3 248.0h0M333.3 225.3h0M333.4 234.9h0M333.5 234.9h0M333.6 238.8h0M333.7 237.1h0M333.9 235.3h0M334.0 241.9h0M334.1 245.6h0M334.3 227.3h0M334.4 244.0h0M334.5 246.3h0M334.6 236.4h0M334.8 228.5h0M334.9 235.0h0M335.0 237.0h0M335.2 232.5h0M335.3 235.3h0M335.4 243.6h0M335.5 235.0h0M335.7 245.1h0M335.9 237.5h0M335.9 238.2h0M336.0 240.9h0M336.2 240.8h0M336.4 235.6h0M336.4 240.2h0M336.6 240.2h0M336.7 241.1h0M336.9 233.0h0M337.0 242.1h0M337.2 241.0h0M337.3 242.4h0M337.4 242.1h0M337.5 240.5h0M337.7 238.6h0M337.8 238.5h0M337.9 238.7h0M338.1 234.9h0M338.2 241.9h0M338.3 240.9h0M338.4 242.1h0M338.6 242.7h0M338.7 242.3h0M338.8 241.8h0M338.9 238.5h0M339.1 243.8h0M339.2 245.5h0M339.2 235.3h0M339.3 238.5h0M339.3 242.9h0M339.5 242.9h0M339.6 242.6h0M339.7 238.3h0M339.9 238.5h0M340.0 242.5h0M340.1 243.6h0M340.3 237.6h0M340.4 234.3h0M340.5 241.2h0M340.6 240.1h0M340.7 236.2h0M340.9 242.6h0M341.0 242.7h0M341.2 241.3h0M341.3 238.6h0M341.4 239.8h0M341.5 240.7h0M341.6 238.0h0M341.8 241.0h0M341.9 235.7h0M342.1 236.9h0M342.2 243.0h0M342.4 238.0h0M342.5 237.0h0M342.6 236.6h0M342.8 235.3h0M342.9 239.2h0M342.9 240.5h0M343.1 240.9h0M343.2 236.5h0M343.4 241.6h0M343.5 240.8h0M343.7 236.1h0M343.8 237.7h0M343.9 234.4h0M344.1 240.0h0M344.2 238.2h0M344.3 235.6h0M344.4 238.5h0M344.5 232.9h0M344.7 238.7h0M344.8 237.5h0M345.0 240.7h0M345.0 229.5h0M345.0 242.2h0M345.0 229.9h0M345.2 237.3h0M345.3 236.4h0M345.4 233.6h0M345.6 233.4h0M345.7 234.8h0M345.9 238.3h0M346.0 232.0h0M346.1 238.8h0M346.2 236.2h0M346.3 232.6h0M346.5 231.5h0M346.6 237.3h0M346.7 239.0h0M346.9 230.6h0M347.0 229.7h0M347.1 233.9h0M347.3 236.1h0M347.4 228.2h0M347.6 230.6h0M347.7 232.5h0M347.8 233.2h0M348.0 230.5h0M348.0 233.4h0M348.2 239.1h0M348.3 232.7h0M348.5 235.3h0M348.6 236.3h0M348.7 235.5h0M348.8 231.5h0M348.9 232.5h0M349.1 236.7h0M349.2 231.4h0M349.4 234.9h0M349.4 227.9h0M349.6 231.3h0M349.7 230.5h0M349.8 226.3h0M350.0 235.5h0M350.1 232.1h0M350.3 238.1h0M350.4 233.4h0M350.5 224.9h0M350.7 222.8h0M350.8 231.5h0M351.0 231.8h0M351.1 226.2h0M351.1 225.0h0M351.3 221.3h0M351.5 231.3h0M351.6 226.5h0M351.6 222.5h0M351.7 220.3h0M351.7 237.2h0M351.8 222.0h0M351.9 226.6h0M352.1 225.8h0M352.2 228.6h0M352.4 226.0h0M352.5 225.1h0M352.6 235.1h0M352.7 224.0h0M352.9 234.1h0M353.0 229.2h0M353.2 232.5h0M353.2 231.9h0M353.4 230.6h0M353.5 236.0h0M353.6 232.1h0M353.7 225.9h0M353.9 230.3h0M354.0 232.3h0M354.1 227.9h0M354.3 226.6h0M354.4 228.0h0M354.5 235.2h0M354.6 233.9h0M354.9 232.5h0M355.0 238.3h0M355.1 229.5h0M355.2 230.7h0M355.3 230.5h0M355.5 227.5h0M355.6 230.8h0M355.7 233.9h0M355.9 231.1h0M356.0 232.8h0M356.1 229.7h0M356.2 227.5h0M356.4 233.8h0M356.5 231.2h0M356.6 231.5h0M356.7 237.5h0M356.9 229.6h0M357.0 233.6h0M357.1 228.7h0M357.3 227.0h0M357.4 226.8h0M357.5 231.4h0M357.6 231.8h0M357.8 230.0h0M358.0 227.6h0M358.1 228.4h0M358.2 236.9h0M358.3 222.8h0M358.3 239.7h0M358.3 234.3h0M358.4 237.6h0M358.6 226.2h0M358.7 226.7h0M358.9 226.7h0M359.0 238.1h0M359.1 225.2h0M359.3 225.9h0M359.3 234.1h0M359.5 231.4h0M359.6 226.3h0M359.8 231.6h0M359.9 230.5h0M360.0 226.5h0M360.1 227.4h0M360.2 234.1h0M360.4 222.6h0M360.6 222.8h0M360.7 231.5h0M360.8 225.2h0M360.9 227.3h0M361.1 232.5h0M361.2 225.4h0M361.3 228.0h0M361.4 221.7h0M361.5 228.2h0M361.7 225.7h0M361.8 231.7h0M362.0 227.5h0M362.1 226.9h0M362.2 231.6h0M362.4 231.9h0M362.5 227.6h0M362.6 228.7h0M362.7 232.2h0M362.8 226.6h0M363.0 229.2h0M363.1 230.1h0M363.3 232.7h0M363.4 226.1h0M363.5 225.1h0M363.6 224.7h0M363.7 225.7h0M363.9 228.3h0M364.1 228.6h0M364.1 224.3h0M364.3 226.1h0M364.5 225.2h0M364.5 224.5h0M364.7 225.3h0M364.8 221.5h0M364.9 222.0h0M365.0 219.5h0M365.0 230.5h0M365.1 227.4h0M365.2 228.1h0M365.4 225.7h0M365.5 225.4h0M365.6 229.2h0M365.8 223.5h0M365.9 225.4h0M366.0 216.6h0M366.1 224.1h0M366.2 215.9h0M366.4 219.7h0M366.5 222.5h0M366.7 217.2h0M366.7 216.9h0M366.9 227.3h0M367.1 222.2h0M367.1 215.1h0M367.3 217.6h0M367.5 218.8h0M367.5 229.7h0M367.5 203.6h0M367.5 221.8h0M367.7 209.2h0M367.8 223.2h0M368.0 215.0h0M368.0 223.0h0M368.2 226.2h0M368.3 223.0h0M368.4 223.2h0M368.6 214.3h0M368.7 211.1h0M368.8 213.5h0M369.0 222.1h0M369.1 215.6h0M369.2 218.6h0M369.4 219.6h0M369.5 213.8h0M369.7 211.2h0M369.8 212.6h0M369.9 212.8h0M370.0 211.0h0M370.1 212.4h0M370.2 217.1h0M370.4 208.6h0M370.6 212.2h0M370.7 216.4h0M370.8 217.6h0M371.0 213.5h0M371.0 223.7h0M371.0 205.3h0M371.1 215.2h0M371.2 216.7h0M371.3 204.8h0M371.4 217.1h0M371.6 215.3h0M371.7 205.4h0M371.8 208.4h0M372.0 221.3h0M372.1 211.4h0M372.2 219.5h0M372.4 207.7h0M372.5 216.2h0M372.7 213.0h0M372.7 206.2h0M372.9 204.1h0M373.1 217.1h0M373.1 210.2h0M373.2 204.9h0M373.4 209.7h0M373.5 214.5h0M373.7 216.7h0M373.8 206.6h0M373.9 215.9h0M374.0 210.0h0M374.2 214.9h0M374.3 221.6h0M374.4 217.6h0M374.5 204.2h0M374.7 212.5h0M374.8 222.0h0M375.0 218.7h0M375.0 199.5h0M375.0 223.0h0M375.1 219.8h0M375.3 212.3h0M375.4 202.7h0M375.5 199.4h0M375.6 209.5h0M375.7 209.5h0M375.9 214.9h0M376.0 206.7h0M376.1 212.2h0M376.2 223.4h0M376.4 205.4h0M376.5 204.7h0M376.6 212.4h0M376.8 205.3h0M376.9 213.3h0M377.1 199.1h0M377.2 212.3h0M377.3 216.7h0M377.4 210.2h0M377.6 211.8h0M377.7 208.1h0M377.8 204.7h0M378.0 213.1h0M378.1 224.3h0M378.2 209.3h0M378.3 217.9h0M378.5 215.5h0M378.6 211.7h0M378.7 209.1h0M378.9 206.6h0M379.0 213.4h0M379.1 203.2h0M379.2 203.3h0M379.3 213.9h0M379.5 212.4h0M379.6 214.9h0M379.8 213.0h0M379.9 211.3h0M380.0 196.1h0M380.0 225.5h0M380.0 225.4h0M380.1 211.5h0M380.3 203.4h0M380.5 208.5h0M380.5 221.9h0M380.6 212.6h0M380.8 205.5h0M380.9 212.3h0M381.0 210.7h0M381.2 211.5h0M381.3 201.7h0M381.5 206.6h0M381.6 204.8h0M381.8 203.7h0M381.8 200.4h0M382.0 210.7h0M382.1 206.2h0M382.2 215.9h0M382.4 218.3h0M382.5 204.3h0M382.6 220.2h0M382.7 208.9h0M382.8 213.8h0M383.1 212.9h0M383.1 206.3h0M383.3 214.1h0M383.4 212.1h0M383.5 209.6h0M383.7 212.7h0M383.8 213.5h0M384.0 209.3h0M384.0 204.7h0M384.2 211.9h0M384.3 212.4h0M384.4 214.3h0M384.6 211.5h0M384.7 211.6h0M384.8 205.0h0M385.0 207.2h0M385.0 217.2h0M385.0 203.6h0M385.1 216.5h0M385.2 206.7h0M385.4 203.8h0M385.5 209.8h0M385.6 214.3h0M385.8 210.3h0M385.8 206.2h0M386.0 202.4h0M386.1 203.5h0M386.3 213.6h0M386.4 208.8h0M386.5 210.1h0M386.7 211.8h0M386.8 210.0h0M386.9 207.2h0M387.1 204.1h0M387.2 205.5h0M387.3 211.9h0M387.4 201.1h0M387.6 212.2h0M387.7 205.0h0M387.8 206.8h0M388.0 210.5h0M388.1 208.0h0M388.2 208.1h0M388.4 209.3h0M388.4 207.8h0M388.7 208.0h0M388.7 204.2h0M388.9 205.2h0M389.0 206.5h0M389.2 204.0h0M389.3 204.1h0M389.4 203.9h0M389.6 203.5h0M389.6 207.0h0M389.8 200.5h0M389.9 204.0h0M390.0 212.2h0M390.0 197.0h0M390.0 206.0h0M390.2 210.8h0M390.3 200.1h0M390.4 201.6h0M390.6 197.7h0M390.7 207.4h0M390.8 196.9h0M390.9 207.3h0M391.1 196.6h0M391.2 204.3h0M391.3 201.2h0M391.5 207.9h0M391.6 206.8h0M391.7 200.8h0M391.9 205.0h0M392.0 209.7h0M392.1 206.8h0M392.3 211.0h0M392.4 198.4h0M392.5 210.1h0M392.6 201.0h0M392.8 197.5h0M392.9 201.8h0M393.1 208.8h0M393.1 194.6h0M393.3 211.7h0M393.4 193.6h0M393.5 192.1h0M393.7 195.2h0M393.9 192.1h0M393.9 196.0h0M394.1 200.9h0M394.2 202.8h0M394.3 199.5h0M394.5 201.9h0M394.6 203.3h0M394.7 200.3h0M394.9 194.3h0M395.0 193.6h0M395.1 189.4h0M395.3 200.7h0M395.4 190.3h0M395.5 205.2h0M395.6 206.5h0M395.7 194.7h0M395.9 204.2h0M396.0 198.6h0M396.1 198.3h0M396.2 189.1h0M396.4 198.6h0M396.5 193.1h0M396.6 205.1h0M396.7 187.0h0M396.7 212.2h0M396.8 196.4h0M396.9 201.9h0M397.1 208.7h0M397.2 192.7h0M397.3 210.9h0M397.5 206.7h0M397.6 195.8h0M397.7 201.8h0M397.8 204.8h0M398.0 201.2h0M398.1 191.8h0M398.2 195.7h0M398.4 192.0h0M398.4 197.8h0M398.7 191.8h0M398.8 193.6h0M398.9 197.4h0M399.0 199.9h0M399.1 206.8h0M399.3 193.8h0M399.4 198.7h0M399.6 198.9h0M399.6 199.2h0M399.8 196.0h0M399.9 193.0h0M400.0 194.5h0M400.1 199.3h0M400.3 196.9h0M400.5 193.0h0M400.6 193.0h0M400.7 193.1h0M400.8 200.8h0M401.0 196.8h0M401.1 196.6h0M401.2 198.6h0M401.4 204.2h0M401.5 196.2h0M401.6 197.1h0M401.8 195.1h0M401.9 201.6h0M402.0 197.0h0M402.1 193.9h0M402.3 202.3h0M402.4 197.4h0M402.6 192.8h0M402.7 195.9h0M402.8 194.7h0M402.9 194.0h0M403.0 199.6h0M403.2 198.7h0M403.3 203.0h0M403.3 192.8h0M403.3 195.2h0M403.4 200.4h0M403.6 193.6h0M403.7 200.9h0M403.8 198.9h0M404.0 196.7h0M404.1 196.2h0M404.2 200.3h0M404.4 198.2h0M404.4 195.8h0M404.6 196.2h0M404.7 193.2h0M404.9 197.5h0M405.0 198.1h0M405.1 196.4h0M405.3 193.5h0M405.4 196.5h0M405.5 197.8h0M405.7 197.6h0M405.8 191.2h0M405.9 193.6h0M406.0 195.3h0M406.1 198.7h0M406.3 194.7h0M406.4 197.2h0M406.5 193.2h0M406.7 194.8h0M406.9 200.2h0M407.0 198.5h0M407.0 197.1h0M407.2 194.9h0M407.4 191.1h0M407.4 197.2h0M407.6 200.4h0M407.7 196.3h0M407.8 197.5h0M408.0 189.7h0M408.1 190.1h0M408.2 194.6h0M408.4 189.7h0M408.5 198.5h0M408.6 187.4h0M408.7 189.6h0M408.9 189.0h0M409.0 189.4h0M409.2 193.9h0M409.3 188.4h0M409.4 188.2h0M409.6 196.9h0M409.7 191.0h0M409.8 188.5h0M409.9 189.2h0M410.1 195.0h0M410.2 188.1h0M410.3 191.2h0M410.4 188.5h0M410.6 186.6h0M410.7 186.5h0M410.8 188.5h0M410.8 182.8h0M410.8 198.9h0M411.0 184.8h0M411.1 192.2h0M411.2 197.8h0M411.3 192.8h0M411.5 186.5h0M411.7 189.4h0M411.8 190.8h0M411.9 188.3h0M412.0 196.3h0M412.2 192.5h0M412.3 193.2h0M412.4 196.0h0M412.5 184.9h0M412.6 188.1h0M412.8 195.2h0M412.9 192.2h0M413.1 191.8h0M413.2 192.9h0M413.3 187.3h0M413.4 185.7h0M413.6 190.1h0M413.7 193.5h0M413.9 183.3h0M414.0 183.5h0M414.1 193.1h0M414.2 181.6h0M414.4 188.7h0M414.5 193.5h0M414.6 184.7h0M414.7 192.1h0M414.8 193.0h0M415.0 192.6h0M415.1 186.6h0M415.3 183.6h0M415.4 187.9h0M415.6 183.0h0M415.6 193.1h0M415.8 193.2h0M415.9 187.1h0M416.0 187.1h0M416.2 191.9h0M416.3 187.4h0M416.4 193.0h0M416.6 184.5h0M416.6 183.2h0M416.8 182.3h0M417.0 181.8h0M417.1 188.0h0M417.2 187.8h0M417.3 188.4h0M417.4 181.1h0M417.5 178.6h0M417.5 192.2h0M417.6 188.2h0M417.7 182.1h0M417.8 187.4h0M418.0 183.9h0M418.1 178.7h0M418.2 183.6h0M418.4 190.6h0M418.5 181.6h0M418.7 181.9h0M418.8 182.9h0M418.9 178.4h0M419.0 177.8h0M419.1 184.4h0M419.3 178.1h0M419.4 183.6h0M419.5 187.3h0M419.7 188.7h0M419.8 181.9h0M419.9 186.3h0M420.1 183.2h0M420.2 183.3h0M420.4 186.2h0M420.5 179.9h0M420.6 179.6h0M420.7 182.2h0M420.8 184.7h0M421.0 180.6h0M421.1 186.4h0M421.3 189.5h0M421.3 183.1h0M421.5 181.6h0M421.6 190.7h0M421.8 192.7h0M421.9 182.7h0M422.0 183.1h0M422.2 190.2h0M422.3 176.3h0M422.5 191.2h0M422.6 181.6h0M422.7 185.0h0M422.8 174.7h0M422.9 187.3h0M423.1 192.7h0M423.2 184.6h0M423.3 189.0h0M423.3 193.0h0M423.3 172.8h0M423.5 176.3h0M423.6 187.3h0M423.7 176.0h0M423.9 181.1h0M424.0 187.9h0M424.1 180.9h0M424.2 184.7h0M424.3 181.8h0M424.5 187.6h0M424.6 181.5h0M424.7 184.3h0M424.9 187.3h0M425.0 185.8h0M425.1 188.6h0M425.2 186.7h0M425.4 186.3h0M425.5 180.7h0M425.7 179.4h0M425.8 182.8h0M425.9 185.4h0M426.0 182.0h0M426.2 179.4h0M426.4 175.8h0M426.5 180.2h0M426.5 182.1h0M426.7 189.6h0M426.8 187.9h0M426.9 180.7h0M427.1 183.3h0M427.2 181.5h0M427.4 174.7h0M427.5 180.3h0M427.6 187.5h0M427.8 177.6h0M427.8 186.9h0M428.0 181.5h0M428.1 183.6h0M428.3 175.5h0M428.4 185.8h0M428.5 179.4h0M428.6 186.4h0M428.8 182.5h0M428.9 186.3h0M429.0 180.6h0M429.1 179.5h0M429.3 177.6h0M429.4 182.0h0M429.6 181.3h0M429.7 182.5h0M429.8 177.1h0M429.9 181.2h0M430.0 175.3h0M430.0 187.2h0M430.1 182.8h0M430.2 183.7h0M430.3 179.1h0M430.4 176.5h0M430.6 184.1h0M430.7 183.5h0M430.9 175.6h0M431.0 177.2h0M431.1 183.2h0M431.2 178.9h0M431.4 180.4h0M431.5 180.2h0M431.6 180.9h0M431.7 180.0h0M431.9 179.3h0M432.0 175.8h0M432.2 177.8h0M432.3 177.1h0M432.4 177.2h0M432.5 181.4h0M432.7 179.4h0M432.8 180.7h0M432.9 176.8h0M433.1 182.0h0M433.2 181.3h0M433.3 176.9h0M433.5 178.4h0M433.6 177.4h0M433.8 173.5h0M433.9 173.0h0M434.0 176.5h0M434.1 173.8h0M434.2 174.6h0M434.3 171.0h0M434.5 171.5h0M434.6 177.7h0M434.7 171.3h0M434.9 169.2h0M435.1 169.9h0M435.2 172.4h0M435.2 172.7h0M435.4 165.9h0M435.5 174.7h0M435.7 173.8h0M435.8 174.4h0M435.9 174.7h0M436.1 172.0h0M436.2 171.8h0M436.3 175.0h0M436.4 166.9h0M436.5 169.0h0M436.7 163.6h0M436.7 179.7h0M436.7 168.8h0M436.9 176.7h0M436.9 169.2h0M437.1 177.8h0M437.3 178.6h0M437.4 164.3h0M437.5 173.5h0M437.6 176.6h0M437.8 169.5h0M437.9 174.8h0M438.0 174.3h0M438.1 175.4h0M438.2 173.7h0M438.4 171.7h0M438.5 176.7h0M438.7 170.4h0M438.8 169.3h0M438.9 161.7h0M439.1 161.9h0M439.2 165.3h0M439.4 169.7h0M439.5 166.8h0M439.6 164.5h0M439.7 159.6h0M439.9 163.8h0M439.9 162.1h0M440.0 162.3h0M440.2 163.7h0M440.3 164.3h0M440.5 163.0h0M440.6 162.3h0M440.8 171.0h0M440.9 172.2h0M441.0 157.3h0M441.0 173.9h0M441.0 165.8h0M441.2 166.1h0M441.2 169.1h0M441.4 168.3h0M441.5 171.2h0M441.7 168.8h0M441.8 162.5h0M441.9 168.5h0M442.0 164.6h0M442.2 167.8h0M442.3 171.4h0M442.4 163.9h0M442.6 173.5h0M442.7 170.4h0M442.8 165.2h0M442.9 169.3h0M443.1 162.4h0M443.2 173.1h0M443.3 174.7h0M443.3 155.8h0M443.4 170.6h0M443.5 167.6h0M443.6 164.2h0M443.8 164.4h0M443.8 162.7h0M443.9 166.6h0M444.1 165.3h0M444.3 172.6h0M444.4 172.3h0M444.5 166.6h0M444.6 163.2h0M444.8 168.7h0M444.9 170.7h0M445.1 171.6h0M445.1 168.2h0M445.3 162.2h0M445.4 158.1h0M445.6 161.4h0M445.7 159.4h0M445.8 160.0h0M446.0 167.5h0M446.0 167.5h0M446.2 170.9h0M446.3 168.0h0M446.5 169.4h0M446.6 162.1h0M446.7 169.4h0M446.8 162.3h0M447.0 157.7h0M447.2 167.1h0M447.2 160.7h0M447.4 162.1h0M447.5 172.0h0M447.6 167.1h0M447.8 170.5h0M447.9 167.4h0M448.0 170.6h0M448.1 159.8h0M448.3 172.2h0M448.3 156.1h0M448.3 169.7h0M448.4 162.8h0M448.5 166.1h0M448.7 166.1h0M448.8 160.6h0M448.9 167.8h0M449.0 154.7h0M449.2 164.5h0M449.3 161.3h0M449.5 169.3h0M449.5 156.1h0M449.8 164.7h0M449.8 155.4h0M450.0 156.2h0M450.1 165.4h0M450.3 159.8h0M450.4 167.7h0M450.5 158.0h0M450.6 160.7h0M450.7 159.2h0M450.9 161.8h0M451.0 165.2h0M451.1 160.2h0M451.3 164.1h0M451.4 154.8h0M451.5 158.4h0M451.6 161.4h0M451.8 152.4h0M452.0 148.8h0M452.0 159.6h0M452.1 163.6h0M452.3 155.6h0M452.4 150.8h0M452.6 151.5h0M452.7 161.0h0M452.8 154.9h0M452.9 154.8h0M453.1 163.9h0M453.2 161.0h0M453.3 154.2h0M453.5 147.0h0M453.6 154.9h0M453.7 154.2h0M453.9 152.8h0M454.0 149.6h0M454.2 148.8h0M454.2 155.0h0M454.4 148.2h0M454.5 146.9h0M454.6 156.2h0M454.8 150.8h0M454.9 154.0h0M455.0 162.2h0M455.0 142.0h0M455.1 142.2h0M455.1 142.8h0M455.3 144.5h0M455.4 143.8h0M455.5 159.3h0M455.7 158.0h0M455.8 152.4h0M456.0 154.3h0M456.1 146.6h0M456.2 146.2h0M456.4 153.8h0M456.4 153.0h0M456.6 143.4h0M456.7 149.1h0M456.8 143.4h0M457.0 146.1h0M457.1 146.5h0M457.2 150.3h0M457.4 151.4h0M457.5 152.3h0M457.6 154.0h0M457.8 153.3h0M457.9 148.2h0M458.1 151.5h0M458.2 146.7h0M458.3 152.0h0M458.4 146.8h0M458.5 151.0h0M458.7 150.2h0M458.8 144.6h0M458.9 152.4h0M459.1 153.7h0M459.2 151.8h0M459.3 156.8h0M459.4 152.0h0M459.6 158.1h0M459.7 158.0h0M459.8 150.3h0M460.0 149.8h0M460.1 155.0h0M460.3 151.6h0M460.3 148.9h0M460.5 143.9h0M460.7 154.8h0M460.7 154.3h0M460.9 146.8h0M461.0 152.0h0M461.2 152.8h0M461.2 153.1h0M461.4 149.3h0M461.6 146.5h0M461.7 149.3h0M461.7 142.8h0M461.7 158.9h0M461.8 150.8h0M461.9 156.7h0M462.0 148.5h0M462.2 157.6h0M462.4 147.5h0M462.5 146.6h0M462.6 150.2h0M462.7 152.7h0M462.8 153.2h0M463.0 156.4h0M463.1 152.5h0M463.2 143.8h0M463.4 154.7h0M463.5 155.4h0M463.6 148.4h0M463.8 145.4h0M463.9 147.2h0M464.0 156.0h0M464.1 150.9h0M464.3 149.6h0M464.4 153.1h0M464.5 145.4h0M464.6 149.9h0M464.8 146.1h0M464.9 147.8h0M465.0 145.9h0M465.1 154.8h0M465.3 149.3h0M465.4 149.9h0M465.5 143.9h0M465.7 148.6h0M465.8 149.4h0M466.0 149.2h0M466.1 149.8h0M466.2 146.0h0M466.3 150.4h0M466.5 149.1h0M466.6 153.3h0M466.7 153.2h0M466.8 151.1h0M467.0 153.2h0M467.2 148.5h0M467.3 147.6h0M467.4 153.0h0M467.5 151.0h0M467.6 144.6h0M467.8 145.7h0M467.9 148.7h0M468.0 151.1h0M468.2 147.4h0M468.3 151.4h0M468.3 143.6h0M468.3 152.2h0M468.4 148.8h0M468.6 144.0h0M468.7 148.2h0M468.8 149.0h0M469.0 147.2h0M469.1 145.6h0M469.2 146.4h0M469.3 150.3h0M469.5 148.2h0M469.6 147.7h0M469.7 147.4h0M469.9 150.5h0M469.9 151.1h0M470.2 145.5h0M470.3 146.6h0M470.4 150.7h0M470.5 148.6h0M470.7 148.2h0M470.8 148.1h0M470.9 143.9h0M471.0 148.2h0M471.1 152.2h0M471.3 148.4h0M471.4 147.7h0M471.5 146.2h0M471.7 143.8h0M471.8 152.8h0M471.9 149.5h0M472.0 149.7h0M472.2 153.1h0M472.3 150.8h0M472.4 149.5h0M472.6 148.8h0M472.7 147.1h0M472.8 145.8h0M472.9 148.4h0M473.1 144.6h0M473.3 148.9h0M473.3 142.0h0M473.3 154.7h0M473.4 143.3h0M473.5 143.4h0M473.6 143.3h0M473.8 149.9h0M473.9 150.7h0M474.0 144.1h0M474.1 149.4h0M474.3 152.2h0M474.4 143.8h0M474.5 147.0h0M474.7 150.3h0M474.8 149.7h0M474.9 143.6h0M475.0 143.8h0M475.2 142.5h0M475.3 142.5h0M475.4 146.7h0M475.6 141.2h0M475.7 143.2h0M475.9 148.6h0M476.0 141.1h0M476.1 143.0h0M476.2 142.4h0M476.4 147.0h0M476.5 145.7h0M476.6 147.0h0M476.8 141.1h0M476.9 143.8h0M477.0 142.6h0M477.1 140.4h0M477.3 147.1h0M477.4 145.2h0M477.5 138.8h0M477.6 140.0h0M477.8 135.3h0M478.0 144.9h0M478.0 144.2h0M478.2 142.8h0M478.3 138.8h0M478.4 140.3h0M478.6 144.9h0M478.7 136.8h0M478.8 138.5h0M479.0 140.8h0M479.1 139.6h0M479.2 143.7h0M479.3 137.9h0M479.5 135.8h0M479.6 142.4h0M479.8 144.4h0M479.9 140.8h0M480.0 131.1h0M480.0 145.5h0M480.0 145.4h0M480.2 139.4h0M480.3 132.3h0M480.4 137.1h0M480.5 142.5h0M480.7 133.8h0M480.7 132.9h0M480.9 134.4h0M481.1 136.5h0M481.2 141.2h0M481.3 130.7h0M481.5 132.9h0M481.5 140.6h0M481.7 129.7h0M481.9 141.1h0M481.9 134.8h0M482.1 141.2h0M482.2 130.9h0M482.4 138.7h0M482.5 142.6h0M482.6 138.6h0M482.8 134.0h0M482.9 142.4h0M483.0 142.2h0M483.1 133.5h0M483.3 129.6h0M483.4 130.8h0M483.5 132.0h0M483.7 143.0h0M483.8 137.7h0M483.9 134.0h0M484.0 127.4h0M484.2 135.5h0M484.3 140.2h0M484.4 133.7h0M484.6 140.8h0M484.6 131.6h0M484.8 139.7h0M484.9 131.4h0M485.0 125.5h0M485.2 126.2h0M485.3 140.9h0M485.4 126.3h0M485.6 128.8h0M485.7 140.9h0M485.8 142.2h0M485.8 124.5h0M485.8 136.3h0M485.9 137.9h0M486.2 133.6h0M486.2 141.5h0M486.4 131.9h0M486.5 142.0h0M486.6 135.2h0M486.8 125.9h0M486.9 140.4h0M487.1 126.9h0M487.2 136.9h0M487.2 130.9h0M487.4 135.0h0M487.5 142.5h0M487.7 132.1h0M487.8 135.4h0M487.9 132.4h0M488.1 141.4h0M488.2 138.3h0M488.3 133.1h0M488.4 140.4h0M488.6 132.7h0M488.7 135.5h0M488.8 143.8h0M489.0 133.9h0M489.1 142.4h0M489.2 140.4h0M489.2 145.5h0M489.2 129.5h0M489.4 133.1h0M489.5 138.7h0M489.6 141.2h0M489.8 137.8h0M489.9 137.1h0M490.0 137.5h0M490.1 136.2h0M490.2 137.4h0M490.4 136.6h0M490.5 135.2h0M490.6 138.0h0M490.8 135.0h0M490.9 130.1h0M491.1 128.9h0M491.2 133.8h0M491.3 131.5h0M491.5 131.7h0M491.6 129.0h0M491.7 137.5h0M491.9 130.0h0M492.0 142.3h0M492.1 137.4h0M492.2 127.9h0M492.4 132.4h0M492.4 137.5h0M492.6 131.9h0M492.8 129.5h0M492.8 128.5h0M493.0 129.0h0M493.1 128.3h0M493.3 139.8h0M493.4 130.1h0M493.5 131.8h0M493.7 136.4h0M493.8 135.8h0M493.9 120.3h0M494.0 137.3h0M494.1 127.0h0M494.3 121.7h0M494.5 120.1h0M494.6 133.8h0M494.7 122.7h0M494.8 119.0h0M494.9 123.5h0M495.1 123.0h0M495.2 124.0h0M495.3 127.9h0M495.5 128.8h0M495.6 132.7h0M495.8 140.2h0M495.8 116.1h0M495.8 141.4h0M495.9 131.7h0M496.0 117.4h0M496.1 130.5h0M496.2 134.6h0M496.4 120.2h0M496.5 134.1h0M496.6 127.0h0M496.7 123.5h0M496.9 126.5h0M497.0 131.4h0M497.2 131.5h0M497.3 125.1h0M497.4 117.3h0M497.5 122.8h0M497.7 122.4h0M497.8 131.0h0M498.0 126.9h0M498.0 134.6h0M498.2 129.9h0M498.3 121.9h0M498.5 132.7h0M498.6 137.3h0M498.8 124.9h0M498.9 129.2h0M499.0 127.3h0M499.1 120.0h0M499.3 132.6h0M499.3 122.4h0M499.5 131.0h0M499.6 122.7h0M499.8 130.7h0M499.9 123.4h0M500.0 123.0h0M500.2 131.6h0M500.3 128.4h0M500.4 130.7h0M500.5 117.3h0M500.7 128.9h0M500.8 121.3h0M501.0 133.5h0M501.0 116.3h0M501.2 123.0h0M501.3 131.6h0M501.5 133.0h0M501.6 116.8h0M501.7 114.5h0M501.7 134.7h0M501.7 123.1h0M501.8 132.9h0M501.9 126.1h0M502.1 123.0h0M502.2 118.0h0M502.4 133.1h0M502.5 130.0h0M502.6 127.1h0M502.8 118.3h0M502.9 114.2h0M503.0 130.4h0M503.2 117.3h0M503.3 119.2h0M503.4 120.1h0M503.5 115.4h0M503.7 131.8h0M503.8 122.9h0M504.0 114.7h0M504.0 128.1h0M504.2 114.8h0M504.3 121.4h0M504.4 127.9h0M504.6 122.1h0M504.7 116.4h0M504.8 119.5h0M505.0 118.0h0M505.1 117.6h0M505.2 115.3h0M505.3 122.4h0M505.5 118.5h0M505.6 119.1h0M505.7 116.3h0M505.9 115.2h0M506.0 127.4h0M506.1 118.9h0M506.3 112.0h0M506.4 120.6h0M506.5 124.8h0M506.7 117.6h0M506.8 121.4h0M506.9 115.0h0M507.0 110.8h0M507.0 128.9h0M507.1 119.0h0M507.2 119.4h0M507.2 105.8h0M507.3 124.3h0M507.4 120.8h0M507.6 117.7h0M507.7 115.7h0M507.8 121.0h0M507.9 123.9h0M508.0 114.8h0M508.2 116.8h0M508.3 123.4h0M508.5 125.0h0M508.6 112.0h0M508.7 121.9h0M508.9 125.9h0M509.0 115.7h0M509.1 124.2h0M509.2 115.6h0M509.4 118.7h0M509.5 114.6h0M509.6 122.0h0M509.8 125.2h0M509.9 117.3h0M510.0 122.3h0M510.1 112.5h0M510.3 119.4h0M510.4 117.6h0M510.5 115.3h0M510.6 115.2h0M510.8 118.8h0M510.9 114.4h0M511.0 119.7h0M511.2 116.4h0M511.3 115.0h0M511.4 125.0h0M511.6 115.4h0M511.7 121.0h0M511.9 115.9h0M512.0 120.7h0M512.1 111.3h0M512.2 120.3h0M512.3 117.5h0M512.5 117.8h0M512.6 123.9h0M512.8 122.5h0M512.9 116.3h0M513.0 114.9h0M513.2 119.6h0M513.3 123.9h0M513.3 111.1h0M513.3 117.2h0M513.4 112.7h0M513.6 116.1h0M513.7 117.0h0M513.8 117.3h0M513.9 116.5h0M514.1 116.3h0M514.2 121.2h0M514.3 117.5h0M514.5 120.2h0M514.6 111.1h0M514.7 120.6h0M514.8 118.0h0M514.9 120.7h0M515.1 120.0h0M515.2 114.1h0M515.3 115.9h0M515.5 116.4h0M515.6 124.7h0M515.8 117.8h0M515.9 118.1h0M516.0 116.3h0M516.1 122.2h0M516.2 121.4h0M516.4 122.0h0M516.6 112.4h0M516.6 118.5h0M516.7 110.8h0M516.7 127.2h0M516.8 119.4h0M516.9 125.9h0M517.1 125.3h0M517.2 115.5h0M517.3 117.5h0M517.5 115.2h0M517.6 120.6h0M517.7 123.6h0M517.8 114.2h0M517.9 113.4h0M518.1 114.1h0M518.3 117.5h0M518.3 118.0h0M518.5 115.9h0M518.6 114.3h0M518.7 117.0h0M518.9 114.8h0M519.0 112.6h0M519.2 112.0h0M519.3 110.2h0M519.4 110.3h0M519.5 118.7h0M519.7 107.3h0M519.8 111.2h0M519.9 109.9h0M520.0 117.2h0M520.2 110.3h0M520.3 110.5h0M520.5 111.7h0M520.6 109.3h0M520.6 113.8h0M520.8 115.1h0M520.9 113.1h0M521.1 119.8h0M521.2 114.8h0M521.4 108.4h0M521.5 108.1h0M521.6 116.0h0M521.7 119.7h0M521.7 104.5h0M521.7 114.7h0M521.8 113.6h0M521.9 113.0h0M522.1 118.1h0M522.3 110.0h0M522.4 112.6h0M522.5 109.6h0M522.7 108.8h0M522.8 113.1h0M522.9 110.5h0M523.1 116.4h0M523.2 108.3h0M523.3 111.8h0M523.4 113.8h0M523.5 113.8h0M523.7 113.6h0M523.8 108.7h0M524.0 116.9h0M524.1 116.0h0M524.2 118.0h0M524.3 110.8h0M524.4 114.5h0M524.6 105.9h0M524.7 113.1h0M524.9 109.6h0M524.9 116.8h0M525.1 116.9h0M525.2 106.9h0M525.4 104.6h0M525.5 108.1h0M525.6 111.2h0M525.7 104.6h0M525.9 107.2h0M526.1 112.3h0M526.1 113.0h0M526.2 109.6h0M526.4 105.5h0M526.5 107.6h0M526.6 109.6h0M526.7 100.3h0M526.7 116.4h0M526.8 110.5h0M526.9 115.2h0M527.0 105.3h0M527.2 114.4h0M527.3 107.8h0M527.5 112.7h0M527.5 89.5h0M527.6 110.3h0M527.7 116.8h0M527.8 107.1h0M528.0 116.4h0M528.1 107.3h0M528.2 110.5h0M528.3 120.5h0M528.3 102.8h0M528.3 107.6h0M528.5 110.8h0M528.6 110.3h0M528.7 107.8h0M528.9 111.9h0M529.1 110.5h0M529.2 112.7h0M529.2 110.2h0M529.4 105.9h0M529.6 106.4h0M529.7 117.5h0M529.8 108.6h0M529.9 113.9h0M530.0 111.2h0M530.2 111.7h0M530.3 114.6h0M530.4 106.5h0M530.5 109.8h0M530.7 109.2h0M530.8 109.7h0M530.9 109.1h0M531.1 104.4h0M531.2 108.7h0M531.4 111.5h0M531.5 109.2h0M531.6 107.2h0M531.8 108.7h0M531.9 101.6h0M532.0 109.1h0M532.2 100.9h0M532.2 108.2h0M532.3 108.2h0M532.6 101.4h0M532.6 101.6h0M532.8 111.4h0M532.9 107.1h0M533.0 108.0h0M533.2 104.7h0M533.3 112.8h0M533.4 110.6h0M533.6 107.6h0M533.6 104.2h0M533.9 106.6h0M533.9 102.2h0M534.1 98.3h0M534.2 111.4h0M534.2 97.0h0M534.2 100.2h0M534.4 103.0h0M534.5 106.6h0M534.6 99.6h0M534.7 103.5h0M534.9 104.8h0M535.0 101.9h0M535.1 100.4h0M535.2 103.0h0M535.4 109.4h0M535.5 100.5h0M535.7 102.0h0M535.8 105.9h0M535.9 104.1h0M536.1 104.8h0M536.1 99.4h0M536.3 103.6h0M536.5 108.1h0M536.5 100.3h0M536.7 104.2h0M536.8 103.6h0M536.9 103.2h0M537.0 108.4h0M537.2 103.5h0M537.3 104.7h0M537.4 108.8h0M537.6 109.6h0M537.8 107.6h0M537.9 105.1h0M537.9 107.3h0M538.1 106.7h0M538.2 108.2h0M538.3 110.5h0M538.3 101.1h0M538.3 107.5h0M538.5 107.6h0M538.6 105.2h0M538.8 98.6h0M538.9 103.8h0M539.0 103.7h0M539.2 98.4h0M539.3 97.3h0M539.4 108.3h0M539.5 96.0h0M539.7 95.3h0M539.8 93.0h0M540.0 104.1h0M540.1 93.0h0M540.2 96.4h0M540.3 103.4h0M540.5 102.6h0M540.6 98.0h0M540.7 99.8h0M540.8 84.5h0M540.8 107.2h0M540.9 98.5h0M541.0 104.6h0M541.1 92.6h0M541.2 94.6h0M541.4 102.3h0M541.5 85.9h0M541.7 84.9h0M541.8 94.1h0M541.9 97.0h0M542.0 90.6h0M542.1 95.7h0M542.3 103.8h0M542.4 93.7h0M542.6 86.4h0M542.6 89.1h0M542.8 98.7h0M543.0 84.8h0M543.0 102.7h0M543.2 95.0h0M543.3 87.7h0M543.4 86.8h0M543.6 88.5h0M543.7 101.7h0M543.8 100.9h0M544.0 93.4h0M544.1 90.4h0M544.2 97.2h0M544.4 98.6h0M544.5 94.8h0M544.6 94.7h0M544.8 86.1h0M544.9 90.6h0M545.0 89.2h0M545.2 94.1h0M545.2 88.2h0M545.4 85.1h0M545.5 86.1h0M545.6 93.0h0M545.8 89.1h0M545.9 92.0h0M546.0 90.9h0M546.2 89.0h0M546.3 74.5h0M546.3 90.0h0M546.4 95.7h0M546.6 86.7h0M546.7 99.7h0M546.7 82.8h0M546.7 85.9h0M546.9 87.8h0M547.0 90.5h0M547.1 89.3h0M547.2 88.1h0M547.4 83.5h0M547.5 90.3h0M547.6 92.0h0M547.7 94.7h0M547.8 99.1h0M548.0 90.6h0M548.1 94.8h0M548.3 95.3h0M548.4 85.7h0M548.5 92.5h0M548.6 88.9h0M548.8 98.7h0M548.9 90.0h0M549.1 86.6h0M549.2 97.3h0M549.2 92.0h0M549.4 97.1h0M549.5 87.8h0M549.7 92.4h0M549.9 85.0h0M549.9 95.4h0M550.0 89.0h0M550.2 90.5h0M550.3 91.3h0M550.4 89.7h0M550.6 95.0h0M550.8 90.1h0M550.9 98.9h0M550.9 91.4h0M551.1 97.6h0M551.2 87.2h0M551.3 95.6h0M551.5 95.7h0M551.6 88.9h0M551.8 86.5h0M551.9 90.6h0M552.0 85.1h0M552.1 88.4h0M552.3 93.4h0M552.4 96.3h0M552.5 83.6h0M552.5 102.2h0M552.6 86.8h0M552.7 89.4h0M552.8 89.7h0M553.0 94.1h0M553.1 90.2h0M553.2 100.3h0M553.3 97.8h0M553.4 93.9h0M553.6 91.0h0M553.7 98.1h0M553.9 92.0h0M554.0 94.6h0M554.0 87.0h0M554.0 96.4h0M554.1 86.1h0M554.2 94.1h0" fill="none" stroke="#f00" stroke-width="5.56" stroke-linecap="round"/>
<path d="M132.5 427.8v4.7M241.5 427.8v4.7M349.5 427.8v4.7M457.5 427.8v4.7M565.5 427.8v4.7M80 100.5h-4.7M80 144.5h-4.7M80 187.5h-4.7M80 231.5h-4.7M80 274.5h-4.7M80 318.5h-4.7M80 362.5h-4.7M80 405.5h-4.7" stroke="#000" stroke-width="1.11" fill="none"/>
<rect x="80.5" y="58.5" width="496" height="369" fill="none" stroke="#000" stroke-width="1.11"/>
<text class="t" x="132.8" y="448.00" text-anchor="middle">2000</text>
<text class="t" x="240.5" y="448.00" text-anchor="middle">2005</text>
<text class="t" x="348.6" y="448.00" text-anchor="middle">2010</text>
<text class="t" x="456.8" y="448.00" text-anchor="middle">2015</text>
<text class="t" x="565.5" y="448.00" text-anchor="middle">2020</text>
<text class="t" x="70.30" y="104.80" text-anchor="end" dx="0 -0.9 -0.9 0 0">0.175</text>
<text class="t" x="70.30" y="148.70" text-anchor="end" dx="0 -0.9 -0.9 0 0">0.150</text>
<text class="t" x="70.30" y="192.30" text-anchor="end" dx="0 -0.9 -0.9 0 0">0.125</text>
<text class="t" x="70.30" y="235.70" text-anchor="end" dx="0 -0.9 -0.9 0 0">0.100</text>
<text class="t" x="70.30" y="279.80" text-anchor="end" dx="0 -0.9 -0.9 0 0">0.075</text>
<text class="t" x="70.30" y="322.80" text-anchor="end" dx="0 -0.9 -0.9 0 0">0.050</text>
<text class="t" x="70.30" y="366.80" text-anchor="end" dx="0 -0.9 -0.9 0 0">0.025</text>
<text class="t" x="70.30" y="410.80" text-anchor="end" dx="0 -0.9 -0.9 0 0">0.000</text>
<text class="t" transform="translate(21.50 244.05) rotate(-90)" text-anchor="middle">m</text>
<text class="h" x="327.8" y="49.30" text-anchor="middle">FZHS N</text>
<rect x="87.5" y="65.5" width="192" height="25" rx="2.8" ry="2.8" fill="#fff" fill-opacity="0.8" stroke="#ccc" stroke-opacity="0.8" stroke-width="1.39"/>
<circle cx="106.6" cy="76.6" r="2.78" fill="#f00"/>
<text class="t" style="letter-spacing:0.06px" x="135.15" y="81.40">repro2018a (IGS14)</text>
</svg></body></html>
